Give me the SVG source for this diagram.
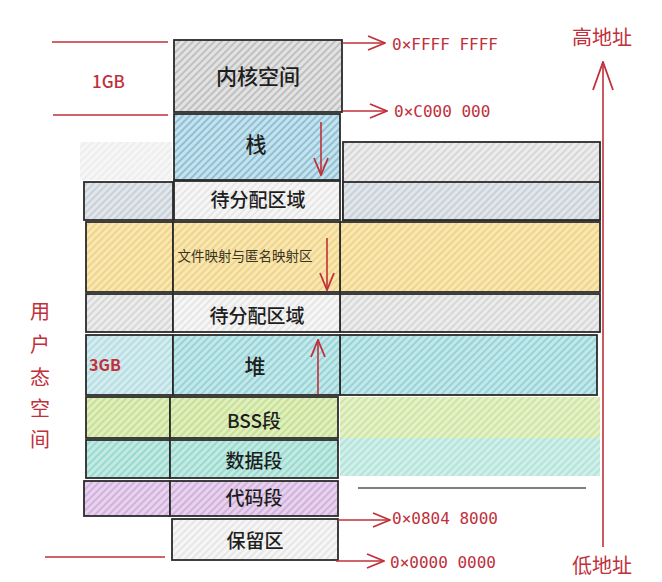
<svg xmlns="http://www.w3.org/2000/svg" width="662" height="582" viewBox="0 0 662 582">
<defs>
<pattern id="pGray" width="5" height="5" patternUnits="userSpaceOnUse" patternTransform="rotate(45)"><rect width="5" height="5" fill="#e2e2e2"/><line x1="1" y1="0" x2="1" y2="5" stroke="#a9a9a9" stroke-width="1.2"/></pattern>
<pattern id="pBlue" width="5" height="5" patternUnits="userSpaceOnUse" patternTransform="rotate(45)"><rect width="5" height="5" fill="#c4e3ef"/><line x1="1" y1="0" x2="1" y2="5" stroke="#6fa9c2" stroke-width="1.2"/></pattern>
<pattern id="pWhite" width="5" height="5" patternUnits="userSpaceOnUse" patternTransform="rotate(45)"><rect width="5" height="5" fill="#f6f6f6"/><line x1="1" y1="0" x2="1" y2="5" stroke="#d6d6d6" stroke-width="1"/></pattern>
<pattern id="pSlate" width="5" height="5" patternUnits="userSpaceOnUse" patternTransform="rotate(45)"><rect width="5" height="5" fill="#e1e6eb"/><line x1="1" y1="0" x2="1" y2="5" stroke="#b5bec7" stroke-width="1.1"/></pattern>
<pattern id="pYellow" width="5" height="5" patternUnits="userSpaceOnUse" patternTransform="rotate(45)"><rect width="5" height="5" fill="#f9e7b0"/><line x1="1" y1="0" x2="1" y2="5" stroke="#eac877" stroke-width="1.2"/></pattern>
<pattern id="pLGray" width="5" height="5" patternUnits="userSpaceOnUse" patternTransform="rotate(45)"><rect width="5" height="5" fill="#ececec"/><line x1="1" y1="0" x2="1" y2="5" stroke="#c6c6c6" stroke-width="1.1"/></pattern>
<pattern id="pTeal" width="5" height="5" patternUnits="userSpaceOnUse" patternTransform="rotate(45)"><rect width="5" height="5" fill="#c3e8ea"/><line x1="1" y1="0" x2="1" y2="5" stroke="#7cc6cc" stroke-width="1.2"/></pattern>
<pattern id="pTealL" width="5" height="5" patternUnits="userSpaceOnUse" patternTransform="rotate(45)"><rect width="5" height="5" fill="#d3ecef"/><line x1="1" y1="0" x2="1" y2="5" stroke="#a2d2d8" stroke-width="1.1"/></pattern>
<pattern id="pGreen" width="5" height="5" patternUnits="userSpaceOnUse" patternTransform="rotate(45)"><rect width="5" height="5" fill="#e0efbc"/><line x1="1" y1="0" x2="1" y2="5" stroke="#b5d67e" stroke-width="1.2"/></pattern>
<pattern id="pData" width="5" height="5" patternUnits="userSpaceOnUse" patternTransform="rotate(45)"><rect width="5" height="5" fill="#c2eae2"/><line x1="1" y1="0" x2="1" y2="5" stroke="#7ecfc2" stroke-width="1.2"/></pattern>
<pattern id="pPurple" width="5" height="5" patternUnits="userSpaceOnUse" patternTransform="rotate(45)"><rect width="5" height="5" fill="#e8d3ee"/><line x1="1" y1="0" x2="1" y2="5" stroke="#c49bd2" stroke-width="1.2"/></pattern>
<marker id="arr" viewBox="0 0 20 20" refX="19" refY="10" markerWidth="20" markerHeight="20" markerUnits="userSpaceOnUse" orient="auto"><path d="M2,3 L19,10 L2,17" fill="none" stroke="#c0303a" stroke-width="1.8"/></marker>
<marker id="arrBig" viewBox="0 0 30 30" refX="29" refY="15" markerWidth="30" markerHeight="30" markerUnits="userSpaceOnUse" orient="auto"><path d="M1,5 L29,15 L1,25" fill="none" stroke="#c0303a" stroke-width="1.8"/></marker>
</defs>
<style>
.b{stroke:#2b2b2b;stroke-width:1.8}
.t{font-family:"Noto Sans CJK SC","Noto Sans",sans-serif;fill:#1e1e1e;text-anchor:middle;font-weight:500}
.r{font-family:"Noto Sans CJK SC","Noto Sans",sans-serif;fill:#c0303a}
.hex{font-family:"DejaVu Sans Mono","Liberation Mono",monospace;fill:#c0303a;font-size:16px}
.rl{stroke:#c0303a;stroke-width:1.6;fill:none}
</style>
<rect width="662" height="582" fill="#ffffff"/>

<g id="kernel">
<rect class="b" x="174" y="40" width="168" height="72" fill="url(#pGray)"/>
<text class="t" x="258" y="84" font-size="21">内核空间</text>
</g>

<g id="stack">
<rect x="80" y="142" width="92" height="38" fill="url(#pLGray)" opacity="0.45"/>
<rect class="b" x="343" y="142" width="257" height="78" fill="url(#pLGray)"/>
<rect class="b" x="174" y="114" width="166" height="66" fill="url(#pBlue)"/>
<text class="t" x="256" y="152" font-size="21">栈</text>
</g>

<g id="free1">
<rect class="b" x="84" y="182" width="89" height="38" fill="url(#pSlate)"/>
<rect class="b" x="343" y="182" width="257" height="38" fill="url(#pSlate)"/>
<rect class="b" x="174" y="181" width="166" height="39" fill="url(#pWhite)"/>
<text class="t" x="258" y="207" font-size="19">待分配区域</text>
</g>

<g id="mmap">
<rect class="b" x="86" y="222" width="87" height="70" fill="url(#pYellow)"/>
<rect class="b" x="340" y="222" width="260" height="70" fill="url(#pYellow)"/>
<rect class="b" x="173" y="222" width="167" height="70" fill="url(#pYellow)"/>
<text x="245" y="261" font-size="13.5" font-family="'Noto Sans CJK SC',sans-serif" fill="#3a3320" text-anchor="middle">文件映射与匿名映射区</text>
</g>

<g id="free2">
<rect class="b" x="86" y="294" width="87" height="38" fill="url(#pLGray)"/>
<rect class="b" x="340" y="294" width="260" height="38" fill="url(#pLGray)"/>
<rect class="b" x="173" y="294" width="167" height="38" fill="url(#pWhite)"/>
<text class="t" x="257" y="323" font-size="19">待分配区域</text>
</g>

<g id="heap">
<rect class="b" x="86" y="335" width="87" height="60" fill="url(#pTealL)"/>
<rect class="b" x="340" y="335" width="257" height="60" fill="url(#pTeal)"/>
<rect class="b" x="173" y="335" width="167" height="60" fill="url(#pTeal)"/>
<text class="t" x="255" y="374" font-size="21">堆</text>
<text class="r" x="89" y="371" font-size="16" font-weight="bold">3GB</text>
</g>

<g id="bss">
<rect x="340" y="397" width="260" height="41" fill="url(#pGreen)" opacity="0.85"/>
<rect class="b" x="86" y="397" width="84" height="41" fill="url(#pGreen)"/>
<rect class="b" x="170" y="397" width="168" height="41" fill="url(#pGreen)"/>
<text class="t" x="254" y="428" font-size="19">BSS段</text>
</g>

<g id="data">
<rect x="340" y="438" width="260" height="38" fill="url(#pData)" opacity="0.75"/>
<rect class="b" x="86" y="440" width="84" height="38" fill="url(#pData)"/>
<rect class="b" x="170" y="440" width="168" height="38" fill="url(#pData)"/>
<text class="t" x="254" y="468" font-size="19">数据段</text>
</g>

<g id="text">
<rect class="b" x="84" y="481" width="86" height="35" fill="url(#pPurple)"/>
<rect class="b" x="170" y="481" width="168" height="35" fill="url(#pPurple)"/>
<text class="t" x="254" y="505" font-size="19">代码段</text>
</g>

<g id="reserved">
<rect class="b" x="172" y="519" width="166" height="41" fill="url(#pWhite)"/>
<text class="t" x="255" y="548" font-size="19">保留区</text>
</g>

<g id="labels">
<text class="r" x="92" y="88" font-size="17" font-weight="500">1GB</text>
<text class="r" x="572" y="45" font-size="20">高地址</text>
<text class="r" x="572" y="573" font-size="20">低地址</text>
<text class="r" font-size="20"><tspan x="30" y="319">用</tspan><tspan x="30" y="352">户</tspan><tspan x="30" y="385">态</tspan><tspan x="30" y="416">空</tspan><tspan x="30" y="447">间</tspan></text>
<text class="hex" x="392" y="50">0×FFFF FFFF</text>
<text class="hex" x="394" y="117">0×C000 000</text>
<text class="hex" x="392" y="524">0×0804 8000</text>
<text class="hex" x="390" y="568">0×0000 0000</text>
</g>

<g id="connectors">
<line class="rl" x1="52" y1="42" x2="168" y2="42"/>
<line class="rl" x1="53" y1="115" x2="168" y2="115"/>
<line class="rl" x1="45" y1="557" x2="165" y2="557"/>
<line class="rl" x1="343" y1="43" x2="385" y2="43" marker-end="url(#arr)"/>
<line class="rl" x1="343" y1="111" x2="387" y2="111" marker-end="url(#arr)"/>
<line class="rl" x1="338" y1="520" x2="390" y2="520" marker-end="url(#arr)"/>
<line class="rl" x1="336" y1="561" x2="384" y2="561" marker-end="url(#arr)"/>
<line class="rl" x1="603" y1="547" x2="603" y2="62" marker-end="url(#arrBig)"/>
<line class="rl" x1="321" y1="122" x2="321" y2="175" marker-end="url(#arr)"/>
<line class="rl" x1="327" y1="238" x2="327" y2="290" marker-end="url(#arr)"/>
<line class="rl" x1="318" y1="394" x2="318" y2="340" marker-end="url(#arr)"/>
<line x1="358" y1="488" x2="586" y2="488" stroke="#555" stroke-width="1.5"/>
</g>
</svg>
